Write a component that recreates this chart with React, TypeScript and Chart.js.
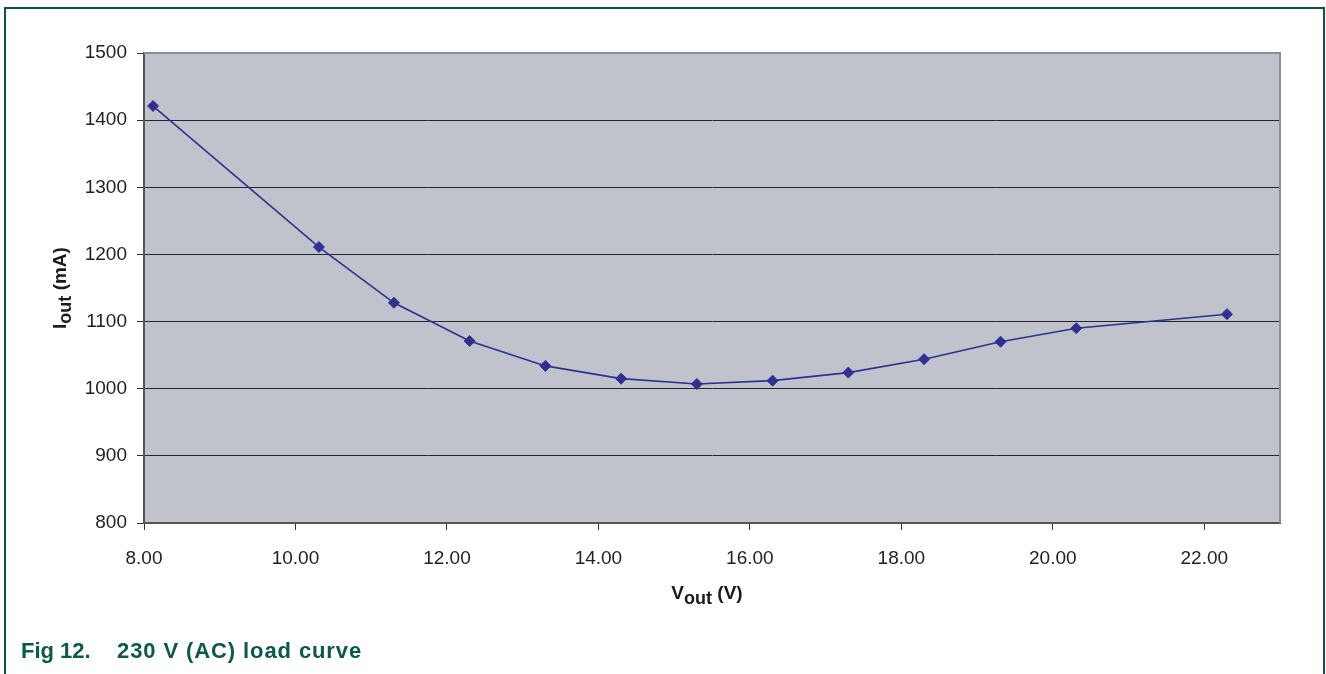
import React, { useEffect, useRef } from "react";
import { Chart, registerables } from "chart.js";

Chart.register(...registerables);

// ---- data ----
const voutValues = [8.12, 10.31, 11.3, 12.3, 13.3, 14.3, 15.3, 16.3, 17.3, 18.3, 19.31, 20.31, 22.3];
const ioutValues = [1421, 1211, 1128, 1071, 1034, 1015, 1007, 1012, 1024, 1044, 1070, 1090, 1111];
const xTickValues = [8, 10, 12, 14, 16, 18, 20, 22];
const yTickValues = [800, 900, 1000, 1100, 1200, 1300, 1400, 1500];
const xAxisTitle = ["V", "out", " (V)"];
const yAxisTitle = ["I", "out", " (mA)"];
const captionParts = ["Fig 12.", "230 V (AC) load curve"];

const FONT = '"Liberation Sans", Arial, Helvetica, sans-serif';
const LINE_COLOR = "#2E3192";

function drawSubTitle(ctx: CanvasRenderingContext2D, parts: string[], cx: number, baseline: number) {
  const mainFont = `bold 19px ${FONT}`;
  const subFont = `bold 18px ${FONT}`;
  ctx.font = mainFont;
  const w0 = ctx.measureText(parts[0]).width;
  const w2 = ctx.measureText(parts[2]).width;
  ctx.font = subFont;
  const w1 = ctx.measureText(parts[1]).width;
  const total = w0 + w1 + w2;
  let x = cx - total / 2;
  ctx.textAlign = "left";
  ctx.textBaseline = "alphabetic";
  ctx.fillStyle = "#1a1a1a";
  ctx.font = mainFont;
  ctx.fillText(parts[0], x, baseline);
  x += w0;
  ctx.font = subFont;
  ctx.fillText(parts[1], x, baseline + 5);
  x += w1;
  ctx.font = mainFont;
  ctx.fillText(parts[2], x, baseline);
}

const decorPlugin = {
  id: "decor",
  beforeDraw(chart: any) {
    const { ctx, chartArea: a } = chart;
    ctx.save();
    ctx.fillStyle = "#C0C3CB";
    ctx.fillRect(a.left, a.top, a.right - a.left, a.bottom - a.top);
    ctx.restore();
  },
  beforeDatasetsDraw(chart: any) {
    const { ctx, chartArea: a } = chart;
    ctx.save();
    ctx.strokeStyle = "#8A8E96";
    ctx.lineWidth = 2;
    ctx.beginPath();
    ctx.moveTo(a.left, a.top);
    ctx.lineTo(a.right, a.top);
    ctx.lineTo(a.right, a.bottom);
    ctx.stroke();
    ctx.restore();
  },
  afterDraw(chart: any) {
    const { ctx, chartArea: a } = chart;
    ctx.save();
    drawSubTitle(ctx, xAxisTitle, (a.left + a.right) / 2 - 5, 599);
    ctx.restore();
    ctx.save();
    ctx.translate(66, (a.top + a.bottom) / 2);
    ctx.rotate(-Math.PI / 2);
    drawSubTitle(ctx, yAxisTitle, 0, 0);
    ctx.restore();
  },
};

export default function App() {
  const canvasRef = useRef<HTMLCanvasElement | null>(null);

  useEffect(() => {
    if (!canvasRef.current) return;
    const chart = new Chart(canvasRef.current, {
      type: "scatter",
      data: {
        datasets: [
          {
            data: voutValues.map((v, i) => ({ x: v, y: ioutValues[i] })),
            showLine: true,
            borderColor: LINE_COLOR,
            backgroundColor: LINE_COLOR,
            borderWidth: 1.6,
            pointStyle: "rectRot",
            pointRadius: 5.5,
            pointBorderWidth: 1,
            pointBorderColor: LINE_COLOR,
            pointBackgroundColor: LINE_COLOR,
          },
        ],
      },
      options: {
        responsive: false,
        animation: false,
        layout: { padding: { left: 0, top: 53, right: 46, bottom: 0 } },
        plugins: {
          legend: { display: false },
          tooltip: { enabled: false },
          title: { display: false },
        },
        scales: {
          x: {
            type: "linear",
            min: 8,
            max: 23,
            afterFit: (s: any) => {
              s.height = 151;
            },
            afterBuildTicks: (s: any) => {
              s.ticks = xTickValues.map((v) => ({ value: v }));
            },
            grid: {
              drawOnChartArea: false,
              drawTicks: true,
              tickLength: 7,
              tickColor: "#333",
              tickWidth: 1,
            },
            border: { display: true, color: "#555", width: 2 },
            ticks: {
              padding: 17,
              color: "#222",
              font: { family: FONT, size: 19 },
              maxRotation: 0,
              callback: (v: any) => Number(v).toFixed(2),
            },
          },
          y: {
            type: "linear",
            min: 800,
            max: 1500,
            afterFit: (s: any) => {
              s.width = 144;
            },
            afterBuildTicks: (s: any) => {
              s.ticks = yTickValues.map((v) => ({ value: v }));
            },
            grid: {
              drawTicks: true,
              tickLength: 7,
              tickColor: "#333",
              lineWidth: 1,
              color: (c: any) =>
                c.tick && (c.tick.value === 1500 || c.tick.value === 800) ? "rgba(0,0,0,0)" : "#262626",
            },
            border: { display: true, color: "#555", width: 2 },
            ticks: {
              padding: 10,
              color: "#222",
              font: { family: FONT, size: 19 },
              callback: (v: any) => String(v),
            },
          },
        },
      },
      plugins: [decorPlugin],
    });
    return () => chart.destroy();
  }, []);

  return (
    <div style={{ position: "absolute", left: 0, top: 0, width: 1326, height: 674, background: "#fff", overflow: "hidden" }}>
      <canvas ref={canvasRef} width={1326} height={674} style={{ position: "absolute", left: 0, top: 0 }} />
      <div
        style={{
          position: "absolute",
          left: 4,
          top: 7,
          width: 1321,
          height: 700,
          boxSizing: "border-box",
          borderTop: "2px solid #0B5546",
          borderLeft: "2px solid #0B5546",
          borderRight: "2px solid #0B5546",
          pointerEvents: "none",
        }}
      />
      <div
        style={{
          position: "absolute",
          left: 21,
          top: 640,
          fontFamily: FONT,
          fontWeight: "bold",
          fontSize: 22,
          lineHeight: "22px",
          color: "#0B5A48",
          whiteSpace: "pre",
        }}
      >
        <span>{captionParts[0]}</span>
        <span style={{ position: "absolute", left: 96, top: 0, letterSpacing: "0.9px" }}>{captionParts[1]}</span>
      </div>
    </div>
  );
}
